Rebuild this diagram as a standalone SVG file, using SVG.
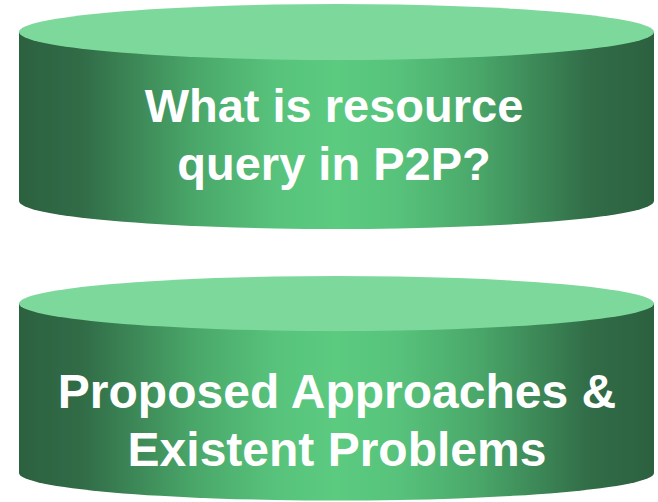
<svg xmlns="http://www.w3.org/2000/svg" width="658" height="502" viewBox="0 0 658 502">
<defs>
<linearGradient id="side" x1="0" y1="0" x2="1" y2="0">
<stop offset="0" stop-color="#2c613f"/>
<stop offset="0.1" stop-color="#316c47"/>
<stop offset="0.28" stop-color="#4aa86a"/>
<stop offset="0.4" stop-color="#57c27b"/>
<stop offset="0.5" stop-color="#5bcb80"/>
<stop offset="0.6" stop-color="#57c27b"/>
<stop offset="0.72" stop-color="#4aa86a"/>
<stop offset="0.9" stop-color="#316c47"/>
<stop offset="1" stop-color="#2c613f"/>
</linearGradient>
</defs>
<style>
.side{fill:url(#side)}
.top{fill:#7dd89b}
.lbl{font-family:"Liberation Sans",Arial,sans-serif;font-weight:bold;fill:#ffffff;text-anchor:middle}
</style>
<g id="node1">
<path class="side" d="M19,32 L19,201 A317.5,28 0 0 0 654,201 L654,32 Z"/>
<ellipse class="top" cx="336.5" cy="32" rx="317.5" ry="28"/>
<text class="lbl" x="334" y="122" font-size="47">What is resource</text>
<text class="lbl" x="334" y="180" font-size="47">query in P2P?</text>
</g>
<g id="node2">
<path class="side" d="M19,303.5 L19,473 A317.5,27.5 0 0 0 654,473 L654,303.5 Z"/>
<ellipse class="top" cx="336.5" cy="303.5" rx="317.5" ry="27.5"/>
<text class="lbl" x="337" y="408" font-size="48">Proposed Approaches &amp;</text>
<text class="lbl" x="337" y="466" font-size="48">Existent Problems</text>
</g>
<g id="connectors"/>
</svg>
